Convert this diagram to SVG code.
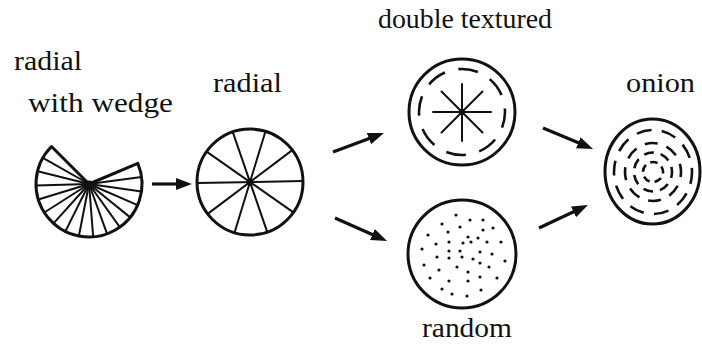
<svg xmlns="http://www.w3.org/2000/svg" width="702" height="355" viewBox="0 0 702 355">
<defs>
<style>
.bg{fill:#fff}
.lbl{font-family:"Times New Roman",Times,"Liberation Serif","DejaVu Serif",serif;font-size:27px;fill:#111}
.rim{fill:none;stroke:#111;stroke-width:3}
.spk{stroke:#111;stroke-width:2;fill:none;stroke-linecap:round}
.dash{fill:none;stroke:#111;stroke-width:2.6}
.dot{fill:#111}
.conn line{stroke:#111;stroke-width:3.2}
</style>
<marker id="ah" markerUnits="userSpaceOnUse" markerWidth="16" markerHeight="12" refX="6" refY="6" orient="auto">
<path d="M0,0 L16,6 L0,12 Z" fill="#111"/>
</marker>
</defs>
<rect class="bg" x="0" y="0" width="702" height="355"/>

<g id="wedge">
<text class="lbl" x="14" y="70" textLength="68" lengthAdjust="spacingAndGlyphs">radial</text>
<text class="lbl" x="28" y="112" textLength="145" lengthAdjust="spacingAndGlyphs">with wedge</text>
<g class="spk">
<line x1="89" y1="184" x2="141.5" y2="177.1"/>
<line x1="89" y1="184" x2="141.5" y2="191.4"/>
<line x1="89" y1="184" x2="137.6" y2="205.1"/>
<line x1="89" y1="184" x2="130.2" y2="217.4"/>
<line x1="89" y1="184" x2="119.8" y2="227.1"/>
<line x1="89" y1="184" x2="107.1" y2="233.8"/>
<line x1="89" y1="184" x2="93.2" y2="236.8"/>
<line x1="89" y1="184" x2="78.9" y2="236.0"/>
<line x1="89" y1="184" x2="65.4" y2="231.4"/>
<line x1="89" y1="184" x2="53.5" y2="223.4"/>
<line x1="89" y1="184" x2="44.3" y2="212.5"/>
<line x1="89" y1="184" x2="38.3" y2="199.5"/>
<line x1="89" y1="184" x2="36.0" y2="185.4"/>
<line x1="89" y1="184" x2="37.6" y2="171.2"/>
<line x1="89" y1="184" x2="42.9" y2="157.9"/>
</g>
<path class="rim" stroke-linejoin="round" d="M89,184 L137.8,163.3 A53,53 0 1 1 51.5,146.5 Z"/>
<circle class="dot" cx="89" cy="185" r="4.5"/>
</g>

<g id="radial">
<text class="lbl" x="213" y="92" textLength="69" lengthAdjust="spacingAndGlyphs">radial</text>
<g class="spk">
<line x1="303" y1="181.1" x2="197" y2="182.9"/>
<line x1="293.4" y1="212.4" x2="206.6" y2="151.6"/>
<line x1="267.3" y1="232.1" x2="232.7" y2="131.9"/>
<line x1="234.5" y1="232.7" x2="265.5" y2="131.3"/>
<line x1="207.7" y1="213.9" x2="292.3" y2="150.1"/>
</g>
<circle class="rim" cx="250" cy="182" r="53"/>
<circle class="dot" cx="250" cy="182" r="3.5"/>
</g>

<g id="double-textured">
<text class="lbl" x="378" y="28" textLength="174" lengthAdjust="spacingAndGlyphs">double textured</text>
<circle class="rim" cx="462" cy="112" r="53"/>
<circle class="dash" cx="462" cy="112" r="43" stroke-dasharray="20 13.77" stroke-dashoffset="4"/>
<g class="spk">
<line x1="433" y1="112" x2="491" y2="112"/>
<line x1="462" y1="84" x2="462" y2="141"/>
<line x1="441.5" y1="91.5" x2="482.5" y2="132.5"/>
<line x1="482.5" y1="91.5" x2="441.5" y2="132.5"/>
</g>
<circle class="dot" cx="462" cy="112" r="3"/>
</g>

<g id="random">
<circle class="rim" cx="462" cy="254" r="54"/>
<g class="dot">
<circle cx="456" cy="215" r="1.6"/><circle cx="470" cy="220" r="1.6"/><circle cx="483" cy="220" r="1.6"/>
<circle cx="442" cy="224" r="1.6"/><circle cx="460" cy="227" r="1.6"/><circle cx="493" cy="228" r="1.6"/>
<circle cx="483" cy="230" r="1.6"/><circle cx="448" cy="232" r="1.6"/><circle cx="428" cy="235" r="1.6"/>
<circle cx="468" cy="237" r="1.6"/><circle cx="478" cy="238" r="1.6"/><circle cx="501" cy="242" r="1.6"/>
<circle cx="436" cy="244" r="1.6"/><circle cx="449" cy="242" r="1.6"/><circle cx="463" cy="243" r="1.6"/>
<circle cx="471" cy="242" r="1.6"/><circle cx="487" cy="242" r="1.6"/><circle cx="422" cy="249" r="1.6"/>
<circle cx="449" cy="251" r="1.6"/><circle cx="460" cy="251" r="1.6"/><circle cx="480" cy="252" r="1.6"/>
<circle cx="437" cy="257" r="1.6"/><circle cx="449" cy="258" r="1.6"/><circle cx="462" cy="257" r="1.6"/>
<circle cx="473" cy="259" r="1.6"/><circle cx="492" cy="254" r="1.6"/><circle cx="480" cy="263" r="1.6"/>
<circle cx="505" cy="261" r="1.6"/><circle cx="424" cy="265" r="1.6"/><circle cx="457" cy="267" r="1.6"/>
<circle cx="468" cy="272" r="1.6"/><circle cx="489" cy="267" r="1.6"/><circle cx="439" cy="270" r="1.6"/>
<circle cx="480" cy="277" r="1.6"/><circle cx="430" cy="278" r="1.6"/><circle cx="497" cy="278" r="1.6"/>
<circle cx="468" cy="281" r="1.6"/><circle cx="449" cy="281" r="1.6"/><circle cx="442" cy="289" r="1.6"/>
<circle cx="481" cy="290" r="1.6"/><circle cx="452" cy="294" r="1.6"/><circle cx="467" cy="296" r="1.6"/>
</g>
<text class="lbl" x="422" y="337" textLength="90" lengthAdjust="spacingAndGlyphs">random</text>
</g>

<g id="onion">
<text class="lbl" x="626" y="92" textLength="69" lengthAdjust="spacingAndGlyphs">onion</text>
<ellipse class="rim" cx="652.5" cy="171.5" rx="47.5" ry="52.5"/>
<ellipse class="dash" cx="653" cy="172" rx="39" ry="42" stroke-dasharray="15 10.3" stroke-dashoffset="3"/>
<ellipse class="dash" cx="653" cy="172" rx="28" ry="29" stroke-dasharray="13 9.3" stroke-dashoffset="8"/>
<ellipse class="dash" cx="653" cy="172" rx="19" ry="19.5" stroke-dasharray="10 7" stroke-dashoffset="4"/>
<ellipse class="dash" cx="653" cy="172" rx="10" ry="10" stroke-dasharray="7.5 5" stroke-dashoffset="6"/>
</g>

<g id="connectors" class="conn">
<line x1="152" y1="184" x2="182" y2="184" marker-end="url(#ah)"/>
<line x1="333" y1="152" x2="374.6" y2="136.5" marker-end="url(#ah)"/>
<line x1="335" y1="218" x2="377.9" y2="237" marker-end="url(#ah)"/>
<line x1="543" y1="128" x2="583.8" y2="145.1" marker-end="url(#ah)"/>
<line x1="539" y1="228" x2="578.9" y2="209.3" marker-end="url(#ah)"/>
</g>
</svg>
